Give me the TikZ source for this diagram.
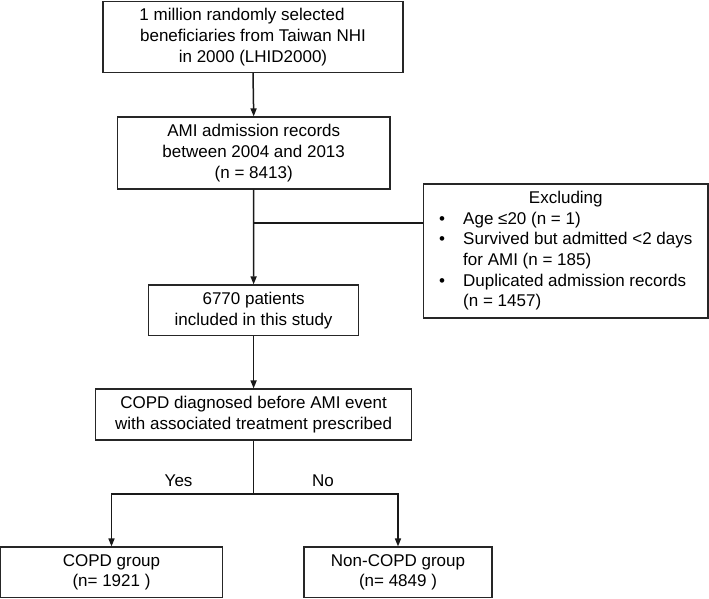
\documentclass[tikz,border=0pt]{standalone}
\usepackage{fontspec}
\setmainfont{Liberation Sans}
\usetikzlibrary{arrows.meta,positioning}
\begin{document}
\begin{tikzpicture}[x=1pt,y=-1pt,
  box/.style={draw=black!85,line width=1.2pt,rectangle,inner sep=0pt,align=center,
    font=\fontsize{17}{20.7}\selectfont},
  conn/.style={line width=1.5pt,draw=black!90},
  arr/.style={conn,-{Triangle[length=8pt,width=6pt]}},
  lbl/.style={font=\fontsize{17}{20.7}\selectfont,inner sep=0pt}]
\useasboundingbox (0,0) rectangle (709,598);
\node[box,minimum width=300pt,minimum height=71pt] (b1) at (253,37)
  {1 million randomly selected\hspace*{22pt}\\beneficiaries from Taiwan NHI\\in 2000 (LHID2000)};
\node[box,minimum width=272.5pt,minimum height=72pt] (b2) at (253.7,153)
  {AMI admission records\\between 2004 and 2013\\(n = 8413)};
\node[box,minimum width=210pt,minimum height=50.7pt] (b3) at (253.6,310.3)
  {6770 patients\\included in this study};
\node[box,minimum width=315.6pt,minimum height=51pt] (b4) at (253.6,414.5)
  {COPD diagnosed before AMI event\\with associated treatment prescribed};
\node[box,minimum width=221.5pt,minimum height=50.5pt] (b5) at (111.5,572.3)
  {COPD group\\(n= 1921 )};
\node[box,minimum width=188pt,minimum height=50.5pt] (b6) at (398,572.3)
  {Non-COPD group\\(n= 4849 )};
\node[box,minimum width=284.4pt,minimum height=134pt,align=left] (ex) at (565.8,251)
  {\begin{tabular}{@{}p{14pt}@{\hspace{10pt}}l@{}}
   \multicolumn{2}{@{}c@{}}{Excluding}\\
   •& Age ≤20 (n = 1)\\
   •& Survived but admitted <2 days\\
    & for AMI (n = 185)\\
   •& Duplicated admission records\\
    & (n = 1457)
  \end{tabular}};
\coordinate (j) at (253.6,223);
\coordinate (br) at (253.6,494);
\draw[arr] (b1.south) -- (b2.north);
\draw[arr] (b2.south) -- (b3.north);
\draw[conn] (j) -- (j -| ex.west);
\draw[arr] (b3.south) -- (b4.north);
\draw[conn] (b4.south) -- (br);
\draw[arr] (br) -| (b5.north);
\draw[arr] (br) -| (b6.north);
\node[lbl] (yes) at (178.6,481) {Yes};
\node[lbl] (no) at (323,481) {No};
\end{tikzpicture}
\end{document}
